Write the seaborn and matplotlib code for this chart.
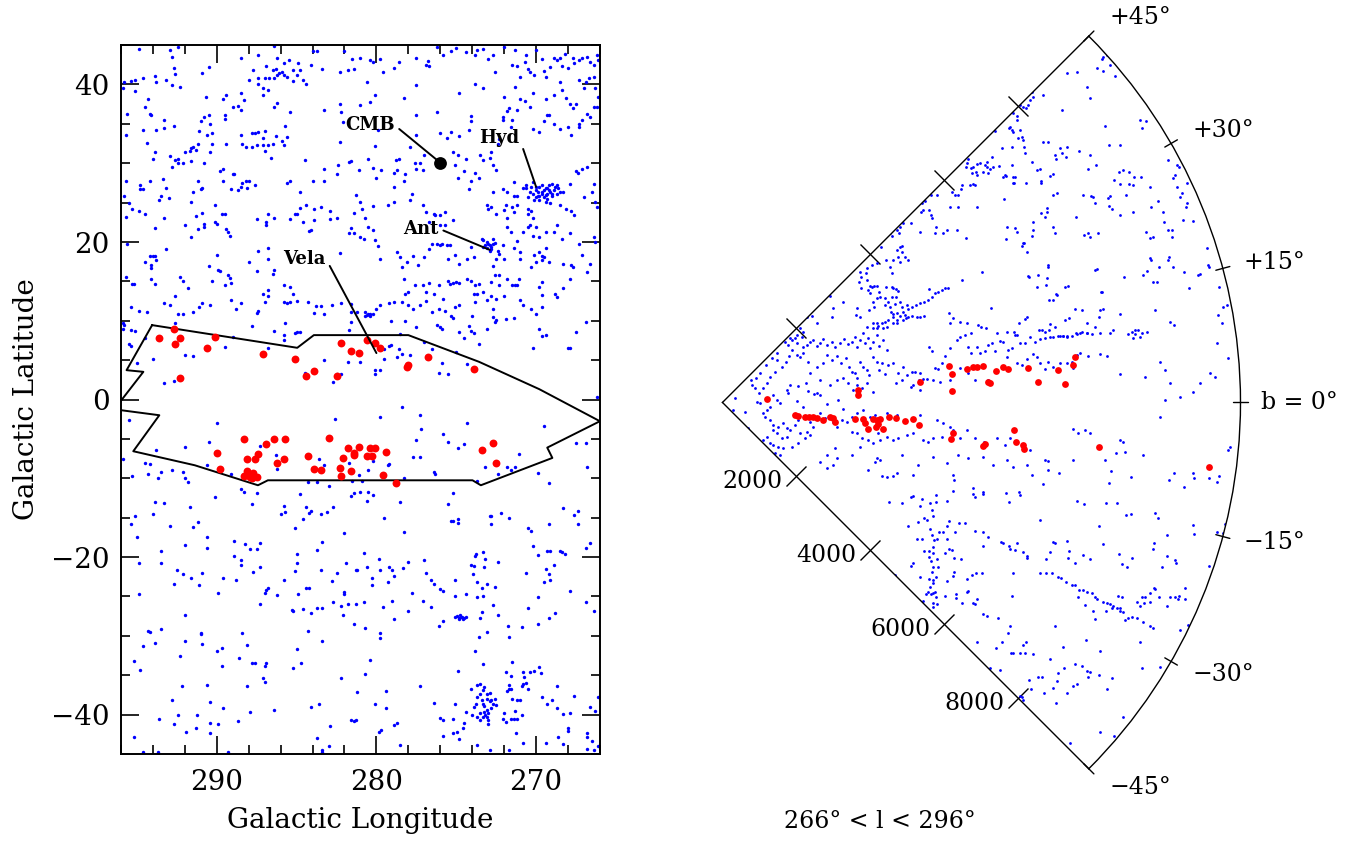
import numpy as np
import matplotlib
matplotlib.use("Agg")
import matplotlib.pyplot as plt
import seaborn as sns
from matplotlib.transforms import offset_copy

sns.set_style("ticks")
plt.rcParams["font.family"] = ["DejaVu Serif"]
plt.rcParams["axes.unicode_minus"] = True
for k in ["text.color", "axes.labelcolor", "xtick.color", "ytick.color", "axes.edgecolor"]:
    plt.rcParams[k] = "black"

# ---------------- LEFT PANEL DATA: galactic (l, b) in degrees ----------------
field_north = [
    (294.9,44.5),(292.9,44.4),(292.8,43.5),(292.4,44.7),(288.5,43.4),(287.4,43.8),(286.4,44.9),(286.2,43.3),(285.8,42.7),(285.5,43.1),(284.9,42.7),(284.1,42.5),(283.7,44.2),(284.0,44.2),(282.0,44.2),(281.5,43.2),(281.0,43.4),
    (287.7,41.8),(286.9,42.4),(286.5,41.8),(286.3,42.0),(286.1,41.5),(285.8,41.2),(285.6,41.0),(285.2,41.8),(284.8,41.8),(285.0,41.2),(284.6,40.6),(284.4,40.0),(285.2,40.4),(288.0,40.6),(287.4,40.8),(287.0,40.8),(286.7,40.8),(286.4,40.8),(287.4,40.0),(287.1,39.5),(286.8,39.3),(287.1,38.7),(286.2,41.2),(285.9,41.6),
    (292.7,42.1),(292.6,41.3),(290.5,42.2),(290.9,41.4),(293.9,41.1),(293.8,40.3),(293.2,40.6),(292.8,39.9),(292.3,39.7),(294.6,40.8),(295.1,40.6),(295.4,40.4),(295.8,40.3),(295.9,39.5),(295.1,39.2),(283.4,42.0),(282.3,41.6),(281.8,41.8),(281.4,42.0),
    (294.3,38.2),(294.5,37.2),(294.2,36.2),(294.1,36.1),(295.6,36.3),(290.7,38.4),(289.6,38.2),(289.4,38.7),(288.5,38.9),(288.3,38.0),(289.0,37.2),(288.7,37.3),(288.5,36.7),(289.5,36.1),(289.5,35.6),(290.8,35.9),(290.5,36.1),(291.0,35.3),(293.3,35.5),(293.3,34.5),(293.8,34.2),(292.7,34.7),(291.1,34.1),(290.6,33.6),(290.3,33.9),(290.4,35.0),(286.4,37.2),(286.2,37.7),(285.4,36.5),(283.3,36.7),(282.3,37.5),(282.2,36.5),(282.1,35.2),(281.0,37.4),(282.3,32.7),(294.6,34.2),(295.7,33.6),
    (294.4,32.6),(293.9,31.4),(294.0,30.6),(292.9,30.9),(292.8,29.5),(292.6,30.4),(292.4,30.6),(292.4,30.0),(292.1,30.0),(292.0,31.4),(291.7,31.5),(291.6,31.9),(291.5,32.1),(291.3,31.7),(291.2,32.4),(291.6,30.3),(290.8,30.0),(290.4,31.4),(290.3,32.5),(289.4,32.5),(288.5,33.6),(288.4,32.4),(288.2,32.1),(287.8,33.9),(287.6,33.8),(287.4,34.0),(287.0,34.1),(287.1,33.2),(287.1,32.3),(286.8,32.3),(287.5,32.3),(287.8,32.1),(286.3,33.5),(285.9,32.8),(285.8,32.3),(285.6,33.3),(285.7,34.7),(286.5,32.5),(287.0,31.5),(286.6,30.7),(284.5,30.4),(283.3,29.3),(283.3,27.8),(284.0,27.7),(284.8,26.4),(285.6,27.5),(285.4,27.8),(282.4,29.8),(282.5,28.6),(281.7,30.1),(281.6,30.3),(281.1,29.1),(281.0,25.1),(281.3,26.0),(281.4,23.7),(281.6,21.8),(281.7,21.1),(281.4,21.1),(281.0,20.6),(282.9,22.9),(282.5,23.1),(282.9,23.9),(283.5,24.4),(283.9,24.2),(284.4,24.7),(284.8,24.3),(285.1,23.5),(285.0,23.5),(284.6,22.5),(285.4,22.9),(284.1,21.5),(284.2,21.4),(283.9,22.8),(286.4,23.1),(286.8,23.6),(286.9,22.1),(286.9,22.5),(287.5,22.9),
    (295.7,27.7),(294.8,27.3),(294.8,26.7),(294.6,26.7),(294.2,27.7),(293.4,28.0),(293.2,26.9),(293.5,25.8),(293.0,25.6),(293.6,25.3),(291.5,26.4),(291.2,27.7),(291.0,26.7),(290.9,26.9),(291.6,25.1),(289.8,29.0),(289.6,29.3),(289.6,27.8),(289.0,28.6),(288.9,28.6),(289.1,26.7),(288.7,26.6),(288.5,27.0),(288.4,27.5),(288.2,27.8),(288.0,27.7),(288.1,26.8),(287.6,27.3),(290.1,24.7),(290.9,23.7),(291.3,23.3),(292.0,22.1),(291.2,21.7),(290.8,22.3),(290.8,21.9),(291.6,20.6),(290.1,22.5),(290.0,22.3),(289.7,23.6),(289.5,23.6),(289.4,21.7),(289.3,21.3),(289.2,20.7),(293.3,23.1),(293.9,21.8),(294.5,23.6),(294.9,24.0),(295.3,24.2),(295.5,25.0),(295.8,25.9),(295.7,23.2),(295.6,19.8),
    (294.2,18.2),(294.0,18.2),(294.5,17.5),(293.9,18.2),(293.8,17.7),(294.1,17.1),(294.1,16.7),(293.2,19.1),(292.3,15.6),(292.1,15.1),(291.8,14.1),(292.6,13.1),(294.1,15.3),(293.9,14.7),(295.7,15.6),(295.3,14.7),(295.2,14.7),(290.5,17.0),(290.0,18.3),(289.9,16.5),(289.8,16.3),(289.3,15.8),(289.2,15.4),(289.1,14.8),(289.5,14.5),(290.3,15.1),(288.0,17.4),(287.5,16.3),(287.4,18.9),(286.8,19.2),(286.8,17.9),(286.4,16.5),(286.5,16.0),(282.3,18.6),(285.8,14.6),(285.4,14.3),(285.2,13.4),(285.0,12.5),(286.8,13.9),(287.1,13.4),(286.8,13.2),(287.0,12.4),(287.4,11.3),(287.5,11.0),(288.5,12.2),(289.1,12.6),(288.8,11.5),(290.4,12.0),(290.9,12.2),(291.1,11.7),(291.5,11.1),(292.1,10.8),(292.4,10.9),(292.9,12.0),(293.3,12.2),(294.4,11.1),(294.9,11.3),(295.4,11.7),(285.8,12.4),(285.6,12.2),(285.4,12.4),(283.8,11.9),(283.5,11.9),(282.8,12.0),(282.2,12.2),(281.6,12.1),(281.6,11.1),(281.2,11.1),(283.3,10.9),(283.9,11.0),(284.3,12.4),
    (280.2,42.9),(280.4,43.1),(279.8,43.2),(279.6,41.6),(278.9,42.1),(278.6,42.9),(277.5,43.3),(276.9,42.5),(276.8,43.0),(276.7,42.4),(276.2,44.8),(275.8,43.8),(275.3,44.2),(275.0,44.6),(274.4,44.1),(273.8,43.8),(273.7,44.4),(273.3,44.5),(273.0,43.2),(272.7,43.8),(272.6,41.6),(272.0,44.8),(271.5,42.5),(271.3,44.4),(271.2,42.4),(271.0,41.0),(270.7,42.9),(270.6,43.8),(270.5,42.0),(270.4,41.6),(270.1,41.2),(270.0,44.4),(269.6,43.2),(269.5,41.7),(269.4,41.0),(269.1,42.2),(268.9,43.3),(268.7,43.1),(268.5,43.4),(268.4,42.4),(268.2,43.9),(268.0,42.1),(267.7,43.3),(267.6,42.7),(267.3,43.1),(267.1,43.3),(266.8,43.5),(266.6,42.9),(266.4,42.5),(266.2,43.8),(266.1,43.1),
    (280.6,40.3),(280.4,37.8),(280.1,38.6),(278.3,38.3),(277.5,39.9),(276.2,36.5),(277.5,36.1),(274.8,38.9),(273.8,40.0),(273.3,39.5),(272.0,38.4),(271.3,39.7),(271.0,38.2),(270.7,37.9),(270.4,37.2),(270.2,38.9),(269.4,38.2),(268.9,38.7),(268.5,40.3),(268.4,39.3),(268.1,38.3),(267.9,37.5),(267.7,37.0),(267.5,37.5),(267.3,40.6),(267.0,39.5),(266.9,40.3),(266.7,40.8),(266.4,41.0),(266.3,39.5),(266.1,38.4),(266.2,37.2),
    (271.7,37.0),(271.8,36.6),(272.1,35.9),(272.1,35.5),(271.6,34.6),(271.5,35.5),(271.2,36.7),(270.2,34.4),(269.8,34.0),(269.5,35.3),(269.3,36.1),(269.2,36.1),(268.9,35.0),(268.5,34.4),(268.0,34.6),(267.8,33.6),(267.3,34.6),(267.3,35.0),(267.1,35.5),(266.8,36.3),(266.6,35.9),(266.4,37.2),
    (274.1,36.0),(274.1,35.3),(274.2,34.2),(276.0,33.9),(275.3,34.0),(274.8,33.5),(275.6,33.2),(277.5,33.6),(277.9,32.1),(278.8,30.4),(278.6,30.5),(278.7,29.1),(278.9,28.7),(278.2,28.6),(278.3,27.7),(278.9,27.0),(277.8,26.1),(277.6,30.0),(277.3,30.0),(277.5,29.3),(277.1,29.2),(277.0,31.1),(279.9,34.2),(280.1,32.2),(280.5,30.6),(280.2,29.4),(280.0,28.1),(279.7,29.1),(275.2,31.4),(274.9,31.0),(275.1,29.8),(274.9,28.1),(274.5,29.0),(274.4,30.5),(274.1,27.8),(274.2,26.7),(273.5,31.0),(273.3,30.4),(272.9,30.7),(272.7,29.8),(272.8,31.4),(273.8,28.7),(273.6,28.1),(272.5,29.1),(272.3,33.1),(272.4,32.5),(272.1,26.7),(271.8,26.4),(271.4,25.9),(271.2,25.9),(270.8,26.8),(270.6,27.3),(270.2,27.6),(270.0,27.0),(271.4,27.6),
    (268.3,26.4),(267.9,27.4),(267.4,28.7),(267.5,29.0),(267.1,29.3),(266.8,29.5),(267.8,23.9),(267.6,23.4),(267.0,25.7),(266.4,27.4),(266.3,25.1),(266.2,24.4),(266.5,26.4),(268.5,24.7),(268.1,24.2),(268.4,20.4),(267.9,21.1),(267.3,19.8),(266.4,20.6),(266.3,20.0),(266.6,17.2),(266.8,16.2),(267.1,18.3),(267.8,17.1),(267.7,16.8),(268.3,17.2),(267.9,15.3),(268.3,14.1),
    (272.7,26.4),(273.1,24.7),(273.0,24.2),(272.8,24.4),(272.5,23.6),(272.0,24.1),(271.8,23.1),(271.9,24.7),(271.5,24.4),(271.4,23.8),(271.2,24.7),(270.5,23.6),(270.5,24.2),(270.3,24.0),(270.2,23.0),(270.4,22.2),(270.0,21.9),(271.8,21.9),(271.6,21.3),(271.2,20.1),(270.8,21.3),(270.5,21.9),(270.2,20.8),(269.8,20.6),(269.4,21.3),(268.9,21.3),(268.7,22.1),(269.4,19.2),(269.8,18.7),(269.6,18.2),(269.5,18.1),(269.6,17.7),(270.0,17.5),(270.3,16.8),(270.1,18.3),(269.2,17.5),(271.0,18.7),(271.0,17.9),(271.4,19.2),(272.1,19.6),(272.0,17.9),(272.3,18.5),(272.5,17.9),(272.7,17.0),(272.6,15.8),(272.3,15.8),(272.8,14.9),(272.3,14.5),(272.0,13.2),(272.5,12.8),(272.8,13.2),(272.7,11.5),(271.8,15.3),(271.5,14.5),(271.3,14.5),(271.2,14.5),(271.1,15.3),(271.0,12.6),(270.8,12.0),(270.3,11.5),(269.6,14.9),(269.8,14.3),(269.6,13.3),(268.8,13.4),(268.7,13.0),(269.6,11.7),(270.0,10.9),
    (274.1,19.4),(273.9,18.1),(274.3,17.9),(274.8,17.2),(275.1,18.3),(275.5,17.9),(275.6,19.6),(275.9,19.8),(276.0,19.6),(276.2,19.7),(275.4,19.6),(276.5,19.8),(276.7,19.1),(277.0,18.1),(277.4,17.1),(277.7,18.2),(278.1,17.5),(278.5,18.1),(278.7,18.7),(279.8,17.9),(279.9,19.5),(280.1,20.2),(280.2,21.5),(280.5,21.9),(280.8,20.4),(280.7,23.0),(280.9,24.2),(280.2,24.6),(279.3,24.7),(278.9,25.1),(276.9,23.8),(276.4,23.6),(276.3,23.4),(276.0,23.4),(275.7,23.8),(276.0,22.1),(275.7,22.1),(275.2,22.8),(276.7,22.5),(277.1,24.7),(277.9,25.3),
    (278.4,16.8),(278.3,15.3),(278.0,13.6),(278.4,12.4),(278.9,12.4),(279.2,12.2),(279.8,12.0),(280.0,11.5),(280.7,11.1),(278.2,13.4),(278.0,12.0),(277.6,14.6),(277.1,14.6),(276.9,13.6),(276.7,14.8),(276.4,13.4),(276.1,14.5),(275.8,12.8),(275.5,15.1),(275.4,14.7),(275.2,14.8),(275.0,14.9),(274.8,14.8),(274.3,15.3),(274.1,15.1),(273.8,14.5),(273.6,14.7),(273.9,13.4),(273.7,13.4),(273.3,13.6),(273.1,12.6),(273.8,12.4),(274.8,12.0),(275.1,11.7),(275.7,11.3),(276.1,11.5),(276.5,11.1),(277.7,11.5),(277.3,12.0),(276.9,12.5),
]

hydra_cluster = [
    (270.6,26.8),(270.4,26.4),(270.2,26.1),(270.0,26.6),(269.9,25.9),(269.8,27.0),(269.6,26.4),(269.5,25.7),(269.4,26.8),(269.3,26.1),(269.2,27.2),(269.1,26.4),(269.0,27.4),(268.9,26.6),(268.8,27.0),(268.7,26.1),(268.6,26.8),(268.5,26.4),(270.1,25.3),(269.8,25.3),(269.4,25.1),(269.1,24.9),(270.5,25.7),(270.3,27.0),(269.6,27.3),(269.3,25.5),(269.0,25.9),(268.7,27.3),(269.6,26.1),(269.9,26.4),(269.4,26.0),(269.2,26.6),(269.5,26.6),(269.3,26.8),(269.8,25.9),(270.0,25.7),(269.0,26.1),
]
antlia_cluster = [
    (273.4,20.4),(273.3,20.2),(273.1,20.0),(273.0,19.8),(272.9,19.6),(272.8,19.4),(273.1,19.2),(272.9,18.9),(272.8,19.1),(272.7,19.7),(272.6,19.9),(273.2,19.6),(272.7,20.4),(273.3,19.4),(272.4,18.9),
]
field_plane = [
    (295.9,9.7),(295.9,9.0),(295.8,9.5),(295.4,8.8),(295.5,7.1),(295.4,6.8),(295.1,8.7),(295.0,4.6),(294.5,7.8),(294.0,5.2),(293.3,2.1),(292.7,2.4),(292.6,9.7),(292.0,5.6),(291.5,5.5),(289.5,6.7),(289.0,8.0),(287.8,9.3),(286.8,6.5),(286.4,8.7),(285.8,8.2),(285.8,7.6),(285.1,8.4),(285.0,8.6),(284.8,8.6),(285.7,9.7),(283.3,5.0),(284.5,3.4),(282.7,2.2),(282.5,3.2),(282.2,3.3),(281.8,4.8),(281.7,8.8),(281.6,9.9),(281.0,4.8),
    (280.6,10.7),(280.4,10.6),(280.2,10.9),(280.7,10.6),(280.4,10.9),(280.5,10.8),
    (280.1,3.7),(280.1,3.2),(279.8,3.7),(279.5,6.4),(279.5,5.2),(279.2,6.8),(279.1,6.9),(279.1,10.0),(278.7,5.4),(278.6,6.4),(278.5,8.3),(278.4,5.8),(277.9,5.6),(278.2,10.0),(277.5,9.2),(277.0,7.3),(276.5,6.4),(276.2,9.5),(276.0,9.2),(275.9,4.6),(275.9,9.0),(276.1,3.4),(275.5,3.2),(275.3,10.6),(275.2,10.3),(275.0,6.1),(274.8,8.6),(274.5,7.8),(274.3,4.5),(274.2,9.3),(274.1,8.7),(274.0,10.6),(273.9,8.5),(273.6,7.1),(273.1,8.9),(272.7,10.5),(272.5,10.1),(271.9,10.2),(271.4,10.3),(272.6,9.9),(270.2,6.6),(269.8,9.0),(269.6,8.1),(269.4,8.2),(268.0,6.6),(267.9,6.5),(267.5,8.6),(266.9,9.9),(266.2,0.3),
    (295.5,-2.6),(295.9,-7.6),(295.3,-9.7),(294.5,-8.1),(294.2,-8.2),(294.3,-9.4),(293.7,-10.0),(293.8,-6.4),(293.5,-9.2),(292.8,-9.0),(292.1,-9.2),(292.0,-10.0),(291.8,-10.5),(292.0,-6.0),(290.5,-5.4),(290.6,-8.3),(290.0,-3.0),(290.1,-12.4),(289.1,-9.4),(288.5,-11.3),(288.3,-11.7),(287.5,-11.9),(287.8,-9.2),(287.3,-5.9),(286.3,-7.1),(286.2,-8.8),(284.3,-10.5),(283.7,-10.5),(284.8,-12.0),(283.6,-7.6),(283.3,-8.3),(283.0,-11.0),(282.6,-2.5),(281.7,-8.1),(281.5,-10.4),(281.4,-11.9),(281.1,-9.6),(280.9,-10.3),(281.6,-12.3),(281.0,-11.7),(280.5,-11.7),(280.2,-12.1),(280.5,-8.9),(280.2,-7.8),(279.8,-2.2),(279.3,-8.3),(279.2,-8.2),(278.4,-0.9),(278.3,-9.9),(277.7,-7.3),(277.3,-7.3),(277.5,-5.1),(277.3,-1.9),(277.2,-3.8),(276.4,-9.2),(276.3,-9.4),(275.8,-4.4),(275.5,-5.4),(275.2,-11.9),(274.9,-6.1),(274.5,-5.6),(274.3,-3.0),(273.7,-10.3),(273.2,-8.6),(272.4,-9.4),(271.8,-8.6),(271.6,-8.9),(271.3,-8.6),(271.1,-6.9),(269.9,-9.3),(269.5,-3.3),(269.2,-10.6),(267.5,-5.5),(266.9,-5.5),(266.8,-8.6),
]
field_south = [
    (293.9,-13.0),(293.3,-13.1),(291.7,-13.6),(287.8,-13.3),(285.8,-13.5),(286.0,-14.5),(285.75,-14.3),(284.4,-13.6),(284.1,-14.1),(284.2,-14.4),(283.5,-14.5),(283.1,-14.3),(282.7,-13.6),(295.1,-14.8),(295.4,-15.8),(294.0,-14.5),(295.0,-17.4),(292.9,-16.1),(291.5,-16.2),(291.2,-15.5),(290.6,-17.5),(290.6,-18.8),(292.0,-18.5),(293.5,-19.2),(293.5,-20.8),(294.9,-20.8),(294.9,-24.7),(292.5,-21.7),(292.1,-22.1),(291.6,-22.6),(292.7,-23.4),(291.1,-23.6),(290.9,-22.0),(289.6,-22.6),(289.9,-24.5),(288.9,-17.9),(288.25,-18.3),(287.9,-19.0),(287.5,-19.0),(287.3,-18.2),(288.9,-19.9),(288.5,-20.4),(288.5,-21.0),(288.8,-22.9),(287.7,-21.9),(287.3,-21.2),(285.8,-22.9),(286.2,-24.8),(287.0,-24.5),(286.9,-24.2),(286.8,-23.9),(287.3,-26.0),(285.1,-16.3),(284.6,-15.2),(285.0,-19.6),(285.0,-20.7),(285.1,-21.8),(284.9,-24.7),(284.4,-23.9),(284.2,-23.9),(285.3,-26.7),(285.2,-26.8),(284.6,-26.6),(283.5,-21.6),(283.75,-19.1),(283.4,-18.1),(282.8,-23.0),(282.5,-22.0),(282.0,-17.0),(281.9,-20.7),(281.3,-21.7),(281.2,-21.7),(282.0,-24.4),(282.0,-24.7),(282.7,-25.7),(282.2,-26.2),(281.8,-25.9),(281.3,-26.0),(282.1,-27.4),(283.7,-26.4),(283.4,-26.5),(284.1,-27.1),(281.4,-28.5),(284.3,-29.4),(283.4,-30.6),(292.0,-27.4),(294.3,-29.4),(294.2,-29.5),(293.5,-29.1),(293.9,-30.9),(294.6,-31.3),(295.2,-33.2),(294.8,-34.3),(292.0,-30.7),(292.3,-32.5),(291.0,-29.6),(291.0,-29.8),(290.9,-31.0),(290.0,-31.9),(289.7,-31.5),(289.7,-33.8),(288.6,-32.8),(288.4,-29.6),(288.1,-31.2),(287.8,-33.4),(287.6,-33.4),(287.0,-33.8),(286.9,-33.4),(287.1,-35.4),(287.0,-35.9),(285.0,-31.7),(285.2,-34.1),(284.75,-33.4),(282.25,-35.3),(281.2,-37.1),(292.2,-36.4),(290.6,-36.2),(288.1,-36.3),(292.8,-38.2),(290.4,-38.4),(289.6,-39.1),(292.4,-40.1),(291.25,-40.0),(293.6,-40.5),(292.7,-41.2),(291.9,-42.2),(291.3,-41.7),(290.4,-41.0),(289.9,-41.2),(290.4,-42.3),(288.7,-40.8),(287.9,-39.6),(286.4,-39.4),(284.1,-38.97),(283.6,-38.6),(282.9,-41.5),(281.6,-40.7),(281.4,-40.8),(281.25,-40.7),(295.2,-42.9),(283.7,-43.0),(283.0,-44.0),(283.4,-44.5),(283.4,-44.8),(294.6,-44.8),(293.7,-44.8),(289.3,-44.8),
    (280.6,-12.9),(278.5,-13.0),(275.5,-13.3),(279.5,-15.0),(278.3,-16.8),(275.3,-15.4),(275.2,-15.4),(274.9,-15.1),(274.9,-15.65),(272.9,-14.8),(272.8,-14.8),(272.2,-14.4),(271.7,-15.0),(272.8,-15.8),(270.5,-16.3),(270.3,-16.7),(268.3,-13.8),(267.4,-14.1),(267.6,-14.7),(267.35,-15.8),(269.2,-15.8),(266.6,-18.2),(266.9,-18.8),(270.2,-18.6),(269.85,-19.7),(269.3,-19.2),(269.1,-19.2),(268.5,-19.2),(268.4,-19.3),(268.2,-19.55),(280.75,-19.5),(279.85,-20.2),(280.6,-21.2),(279.75,-21.6),(279.2,-21.2),(279.0,-21.7),(278.9,-22.4),(280.3,-22.7),(280.3,-23.5),(279.3,-23.2),(278.35,-21.4),(278.0,-20.6),(277.0,-20.4),(276.9,-22.0),(276.6,-22.9),(276.4,-23.4),(276.0,-24.1),(275.8,-24.3),(277.8,-24.6),(277.1,-25.6),(276.6,-26.3),(278.0,-26.9),(278.9,-27.8),(280.75,-25.7),(279.6,-26.3),(279.0,-25.6),(275.1,-22.9),(275.1,-25.0),(274.4,-24.7),(274.1,-21.0),(273.9,-21.1),(273.8,-19.8),(273.75,-19.55),(273.3,-19.4),(273.2,-20.3),(273.25,-21.2),(273.95,-22.1),(273.7,-23.2),(273.4,-23.9),(273.1,-23.45),(273.3,-25.0),(273.7,-25.1),(272.6,-23.8),(272.4,-20.65),(270.6,-22.0),(269.4,-21.5),(268.9,-21.0),(269.2,-22.2),(269.1,-22.9),(269.5,-23.15),(269.9,-25.1),(267.9,-24.3),(266.9,-25.7),(266.35,-26.8),(268.8,-27.05),(269.2,-27.7),(269.85,-28.45),(270.5,-26.5),(270.9,-28.9),(271.75,-28.7),(271.7,-30.2),(272.7,-26.1),(272.4,-27.3),(273.4,-27.0),(273.5,-27.7),(273.1,-29.55),(273.6,-30.1),(275.8,-28.1),(276.1,-28.8),(280.7,-28.95),(279.8,-29.6),(279.8,-30.3),(280.4,-33.0),(280.7,-34.8),(273.8,-31.9),(273.3,-33.6),(274.9,-34.5),(277.25,-36.4),(279.4,-37.05),(280.1,-38.6),(279.4,-39.1),(278.9,-41.3),(278.7,-41.1),(279.7,-42.0),(279.85,-42.2),(278.5,-43.8),(276.4,-38.5),(275.1,-38.6),(276.0,-40.4),(275.8,-40.65),(275.2,-40.6),(275.2,-42.3),(274.95,-42.2),(274.85,-43.1),(275.8,-42.7),(274.4,-39.7),(274.5,-41.1),(274.6,-41.7),(274.0,-40.1),(273.7,-40.3),(273.5,-40.7),(273.0,-41.2),(273.1,-40.3),(273.25,-39.7),(273.7,-43.8),(272.9,-44.55),(271.7,-44.5),(270.8,-43.6),(269.4,-43.6),(268.6,-42.8),(268.3,-43.7),(268.0,-42.1),(266.8,-42.3),(266.8,-42.8),(266.5,-43.4),(266.8,-44.3),(266.4,-44.55),(266.1,-43.95),(267.9,-39.85),(268.3,-39.9),(268.7,-39.2),(269.3,-38.7),(269.0,-38.2),(269.6,-37.7),(269.7,-34.7),(270.4,-34.6),(270.1,-34.5),(269.8,-34.0),(270.85,-34.6),(270.75,-35.2),(270.9,-36.3),(270.5,-36.7),(270.6,-36.0),(270.8,-36.1),(271.5,-33.3),(271.9,-34.6),(271.6,-35.1),(271.7,-36.2),(271.7,-36.8),(271.8,-37.05),(271.6,-36.8),(271.5,-38.0),(271.2,-38.1),(271.0,-38.1),(271.3,-39.5),(270.9,-40.1),(271.2,-40.5),(271.4,-40.5),(272.0,-39.8),(271.9,-40.95),(271.6,-40.5),(271.25,-42.3),(268.7,-36.4),(267.6,-37.6),(266.6,-39.05),(266.3,-39.5),(266.1,-37.8),(268.0,-41.7),(272.1,-40.5),
    (275.1,-27.6),(274.95,-27.5),(274.8,-27.7),(274.65,-27.6),(274.5,-27.7),(274.4,-27.6),(274.75,-27.4),(274.85,-27.9),(274.6,-27.9),(274.7,-27.6),
    (274.1,-36.7),(273.7,-36.2),(273.5,-36.1),(273.25,-36.5),(273.3,-36.9),(273.1,-37.4),(272.9,-37.3),(273.1,-38.0),(272.9,-38.3),(272.8,-38.1),(272.6,-38.0),(272.7,-38.6),(273.25,-38.95),(273.1,-39.4),(273.0,-39.8),(273.3,-40.3),(273.5,-39.8),(273.9,-39.0),(273.75,-38.6),(273.7,-37.8),(273.4,-38.1),(273.3,-38.6),(273.0,-40.7),(273.2,-40.0),(272.8,-39.1),(273.5,-37.4),(272.5,-38.8),
]

# ZOA galaxies with measured redshifts (red)
zoa_lb = [
    (293.6,7.8),(292.7,8.9),(292.3,7.8),(292.6,7.0),(292.3,2.7),(290.1,7.9),(290.6,6.5),(287.1,5.8),(285.1,5.1),(284.4,3.0),(283.9,3.6),(282.5,3.0),(282.2,7.2),(281.6,6.2),(281.1,5.9),(280.6,7.5),(280.1,7.2),(279.8,6.5),(278.1,4.1),(278.0,4.4),(276.8,5.4),(273.9,3.9),
    (288.3,-5.0),(290.0,-6.8),(289.8,-8.8),(288.1,-7.6),(287.6,-7.5),(287.4,-6.9),(286.9,-5.7),(286.4,-5.0),(285.7,-5.0),(285.8,-7.6),(286.2,-8.0),(288.1,-9.1),(288.0,-9.4),(287.9,-9.8),(287.7,-9.3),(287.5,-9.8),(287.8,-10.0),(288.3,-9.7),(284.3,-7.2),(283.9,-8.8),(283.5,-8.9),(283.0,-4.9),(282.3,-8.7),(282.2,-9.7),(282.1,-7.4),(281.8,-6.1),(281.6,-9.1),(281.4,-6.8),(281.4,-7.1),(281.1,-6.0),(280.4,-6.1),(280.1,-6.2),(280.6,-7.2),(280.3,-7.2),(279.6,-9.6),(279.4,-6.6),(278.8,-10.6),(273.4,-6.4),(272.7,-5.5),(272.5,-8.1),
]

# survey boundary (l, b)
boundary_l = [294.05, 295.65, 294.6, 296.3, 296.3, 293.6, 295.23, 291.38, 287.42, 286.8, 273.98, 273.46, 268.98, 269.3, 266.0, 269.8, 273.57, 278.0, 283.92, 284.96, 294.05]
boundary_b = [9.45, 3.73, 3.52, -0.93, -1.27, -1.99, -6.56, -8.34, -10.88, -10.25, -10.25, -10.88, -7.41, -6.1, -2.75, 1.32, 4.79, 8.18, 8.18, 6.57, 9.45]

cmb_l, cmb_b = [276.0], [30.0]
labels = ["CMB", "Hyd", "Ant", "Vela"]
label_text_lb = [(280.4, 34.8), (272.3, 33.2), (277.2, 21.7), (284.5, 17.9)]
label_point_lb = [(276.2, 30.4), (270.0, 27.0), (272.9, 19.0), (280.0, 5.9)]

lon_major = [290, 280, 270]
lat_major = [-40, -20, 0, 20, 40]

# ---------------- RIGHT PANEL DATA: cone plane (cz cos b, cz sin b) in km/s ----------------
cone_north = [
    (7246,6558),(7280,6610),(7340,6640),(7405,6450),(7265,6342),(7163,6386),(7500,6240),(6768,6323),(6577,6291),(6322,6367),(6959,6023),(7023,5813),(6481,5590),(6118,5877),(5908,5941),(5927,5845),(5876,5781),(5844,5686),(5800,5622),(5736,5641),(5685,5686),(5558,5539),(5634,5476),(5621,5399),(5494,5272),(5526,5208),(5481,5240),(5558,5176),(5685,5208),(5717,5081),(5749,5017),(5653,5049),(5207,5195),(5761,4889),(5781,4775),(5526,4877),(5335,4858),(7309,5284),(7978,5399),(8093,5386),(8010,5240),(7392,4921),(7596,4921),(6118,4985),(6226,4985),(6449,4858),(6481,4762),(6354,4730),(6577,4889),(6564,4698),(6373,4647),(6819,4813),(7023,4730),(7137,4539),(6991,4456),(5908,4603),(6004,4444),(6067,4456),(6258,4329),(6322,4367),(6086,4240),(6080,4189),(5800,4202),(5589,4316),(5570,4189),(5526,4539),(5417,4329),(5290,4520),(5144,4698),(5163,4507),(5112,4456),(5048,4603),(5048,4507),(5080,4380),(4984,4412),(5016,4539),(4921,4584),(4857,4558),(4793,4495),(4698,4647),(4679,4584),(4653,4507),(4742,4475),(4761,4393),(4844,4412),(4857,4348),(4780,4176),(4825,4157),(4730,4157),(4570,4157),(4551,4074),(4379,4030),(4443,3966),(4507,3966),(4347,3743),(4494,3743),(4093,3966),(3978,3966),(3870,3858),(3806,3807),(3793,3647),(3838,3679),(3952,3679),(3978,3584),(3997,3520),(4061,3233),(4080,3361),(4207,3233),(4296,3297),(3774,3265),(3596,3424),(3443,3437),(3392,3361),(3328,3297),(3379,3233),(3201,3233),(3233,3182),(3328,2915),(3392,2978),(3424,2991),(3436,2883),(3360,2787),(3392,2692),(3487,2787),(3551,2724),(3264,2724),(3201,2596),(3245,2469),(3124,2724),(3022,2978),(2946,2660),(2850,2628),(2755,2564),(2742,2469),(2627,2501),(2640,2405),(2755,2341),(2819,2227),(2850,2201),(2895,2227),(2946,2227),(2997,2119),(2787,2150),(2640,2182),(2615,2310),(3124,2214),(3233,2214),(3264,2182),(3309,2163),(3360,2138),(3315,2023),(3233,2023),(3105,1991),(3010,2023),(2946,1991),(2882,1927),(2819,2087),(3169,1927),(3201,1832),(3105,1864),(3213,1736),(3264,1692),(3328,1704),(3456,1736),(3551,1781),(3615,1819),(3698,1864),(3774,1896),(3850,1927),(3933,1959),(3997,2023),(4061,2087),(4124,2119),(4188,2150),(4252,2182),(4315,2182),(3952,2163),(3487,1673),(3392,1654),(3328,1577),(3264,1628),(3169,1577),(3105,1545),(3041,1513),(2978,1462),(2946,1526),(3137,1450),(3073,1418),(2959,1418),(2882,1513),(2869,1418),(2755,1450),(3264,1513),(3341,1526),(3443,1577),(3506,1609),(3551,1628),(3615,1654),(3710,1628),(3774,1628),(3850,1654),(3424,1832),(3519,1864),(3296,1883),(3392,1927),(2895,1819),(2806,1768),(2576,1800),(2551,1673),(2627,1628),(2309,1927),(2118,1800),(2054,2036),(2086,1628),(1799,1513),(1608,1628),(1704,1654),(1545,1354),(1417,1290),(1481,1418),(1290,1227),
    (7118,2533),(7150,2545),(7246,2119),(7214,1768),(6959,1526),(6863,1768),(6736,1781),(6628,1609),(6545,1577),(6609,2227),(6545,2201),(6386,2055),(6322,1959),(6246,1959),(6182,2246),(6195,2373),(6035,2437),(6004,2214),(5863,2405),(6226,2596),(5749,3042),(5812,2883),(5921,3189),(5430,3361),(5589,3329),(5634,3265),(5417,3119),(5717,2991),(4653,3138),(4952,2501),(5124,1800),(4570,2341),(4335,1717),(4538,1545),(4666,1513),(4411,1609),(4347,1513),(4889,1482),(4933,1450),(5035,1418),(4742,1322),(5252,1335),(5430,1354),(5570,1354),(5589,1290),(5666,1513),(5781,1590),(5812,1628),(6054,1386),(6099,1386),(6163,1354),(6258,1501),(6246,1386),(6354,1437),(6449,1271),(6513,1271),(6577,1271),(6755,1322),(6832,1322),(6959,1335),(7118,1450),(7201,1628),(7277,1781),(7596,1692),(7456,1386),(7819,1354),(7883,1386),(7946,1386),(8010,1322),(7883,1310),(8265,1768),(8552,1545),(8628,1482),(9475,1673),(9571,1819),(9539,1513),
    (8169,4125),(8329,3858),(8424,3647),(8182,3743),(8093,3265),(8169,3138),(8233,3157),(8596,3297),(8794,3488),(8997,3475),(7851,3647),(7774,4412),(7660,4444),(7583,4412),(7596,4176),(7774,4176),(7838,4157),(7711,3966),(7405,3953),(7392,3756),(7437,3692),(7596,3584),(7991,4316),(7864,4316),(7481,4252),(6883,3966),(7035,3947),(7074,3921),(7118,3819),(6755,3552),(6354,3246),(6908,3201),(7023,3170),(7182,3246),(7373,3902),(8520,4635),(8679,4539),(8730,4507),(8647,4348),(8615,4284),(8679,4125),(8774,3998),(8743,3934),(8883,4202),(8870,3819),(8857,3743),(8520,3297),(8437,3456),(8583,3170),(8539,2787),(8520,2724),(8602,2584),(8169,2756),(8182,2724),(8348,2596),(8118,2520),(8042,2437),(8233,2310),(8309,2310),(8819,2501),(9125,2450),(9093,2437),(9284,2628),(9303,2596),(9265,2947),(8921,2195),(9494,2214),(9634,1864),(7679,2392),(7233,2119),(6322,3361),(6226,2628),(6373,2074),(5844,2418),(5940,3297),(5761,3042),(5386,3883),(4857,3743),(4487,3297),(5354,4316),(5398,4348),(5545,4316),(5558,4202),(6195,3647),(6080,3628),(6163,3552),(5940,3456),(6207,3711),(6309,3966),(6386,4010),(6991,3246),
]
cone_middle = [
    (1194,1162),(1258,1098),(1322,1194),(1385,1226),(1430,1130),(1513,1258),(1545,1067),(1621,1098),(1672,1162),(1736,1194),(1799,1079),(1863,1130),(1927,1207),(1990,1098),(2086,1162),(2150,1067),(2245,1130),(2322,1207),(2404,1117),(2468,1162),(2532,1258),(2564,1067),(2627,1194),(2678,1321),(2723,1130),(2787,1226),(2819,1035),(2882,1162),(2946,1289),(2997,1079),(3073,1194),(3137,1003),(1322,1003),(1417,907),(1481,875),(1277,888),(1213,780),(1130,684),(1035,812),(1003,589),(908,493),(844,366),(780,270),(704,175),(621,270),(557,334),(538,429),(640,461),(716,557),(831,716),(939,844),(1048,939),
    (1545,939),(1640,780),(1799,684),(1927,748),(1990,907),(2086,812),(2182,888),(2258,748),(2360,844),(2424,684),(2468,589),(2532,557),(2576,461),(2627,780),(2691,684),(2755,621),(2806,525),(2882,875),(2946,780),(2997,621),(3041,748),(3105,544),(3169,716),(3264,748),(3360,557),(3443,672),(3519,525),(3615,589),(3678,589),(3774,570),(3838,442),(3901,442),(3952,1067),(3997,990),(4061,652),(4124,633),(4188,748),(4252,888),(4347,1035),(4475,1194),(4538,1258),(4634,1289),(4698,1067),(4742,952),(4857,1054),(4921,952),(5016,990),(5080,1098),(5144,1130),(5207,990),(5303,1181),(5367,1162),(5430,875),(5462,1003),(5526,1035),(5621,1289),(5685,1130),(5781,1130),(5876,1258),(5972,1162),(6067,1207),(6163,1226),(6258,1245),(6322,1245),(6418,1270),(6513,1270),(6577,1245),(6672,1270),(6768,1309),(6863,1353),(6959,1321),(7055,1309),(7214,1321),(7405,1334),(7755,1309),(7851,1226),(7978,1245),(8106,1353),(5621,748),(5717,716),(5812,824),(5940,926),(6004,875),(6067,761),(6163,633),(6226,780),(6322,684),(6449,748),(6577,748),(6672,780),(6704,652),(6768,907),(6832,939),(6991,888),(7214,926),(7341,888),(7596,544),(8074,480),(8360,780),(8456,621),(9411,493),(9443,1130),(9666,844),(5080,429),(4825,429),(4347,429),(4029,429),(3761,429),(4156,398),(4538,652),(4698,557),(4889,652),(4411,525),(3647,334),(3596,302),(3424,429),(3315,366),(3774,238),(2882,207),(2755,366),(2659,270),(2576,334),(2500,238),(2404,366),(2309,461),(2182,429),(2054,334),(1863,429),(1672,570),(1595,366),(1449,315),(1290,334),(1226,238),(1258,187),
    (971,143),(1035,47),(1099,-16),(908,-80),(844,-144),(780,-208),(812,-284),(908,-335),(971,-430),(1067,-462),(1162,-399),(1226,-494),(1290,-526),(1226,-653),(1130,-685),(1035,-590),(971,-526),(844,-653),(780,-717),(908,-781),(971,-813),(1067,-845),(1162,-876),(1003,-972),(1099,-1004),(239,79),(207,-144),(430,-176),(493,-494),(716,-16),(653,15),(1545,-93),(1608,-271),(1672,-367),(1736,-462),(1449,-335),(1385,-430),(1672,-622),(1576,-685),(1481,-590),(1430,35),(1748,162),(1799,187),(1863,143),(1640,226),(1990,-29),(2213,47),(2309,-131),(2468,-558),(2564,-590),(2659,-685),(2787,-717),(2882,-781),(2978,-590),(3010,-717),(3137,-653),(3264,-717),(3360,-685),(3519,-622),(3647,-590),(3838,-717),(3933,-749),(4029,-685),(4188,-653),(4411,-526),(4538,-685),(4666,-526),(4825,-685),(4997,-749),(5239,-685),(5398,-813),(5494,-685),(5876,-908),(6163,-1099),(6226,-1112),(6704,-513),(6800,-590),(6927,-526),(7023,-590),(7596,-717),(7647,-749),(7692,-940),(8042,-1004),(8360,-271),(8456,47),(8552,366),(8743,111),(8997,207),(9125,366),(9316,557),(9666,-908),(9698,-845),(7520,-959),(7309,-1099),(6704,-1099),(5812,-1195),(5558,-1227),(5430,-1099),(5175,-1195),(4984,-1036),(4698,-1067),(4507,-1004),(4284,-1163),(4029,-1036),(3742,-1195),(3424,-1004),(3010,-1099),(2959,-1067),(2914,-1131),(2627,-845),(2468,-1004),(2182,-1067),(1990,-1004),(1863,-1131),(2150,-876),(2118,-1195),(1990,-1259),(1608,-558),(1449,-781),(1322,-845),(1863,-208),(1959,-303),(2105,-367),(2182,-462),(2277,-335),(2373,-367),(2468,-271),(2564,-208),(2691,-144),(2819,-284),(2914,-239),(3137,-208),(3328,-239),(3774,-239),(4093,-335),(4220,-399),(4347,-462),
]
cone_south = [
    (2787,-1290),(3042,-1405),(3137,-1418),(3252,-1405),(3341,-1354),(3647,-1386),(3188,-1895),(3424,-1927),(3596,-1800),(3647,-1787),(3806,-1851),(3774,-1978),(3965,-1915),(4080,-1768),(4080,-1895),(4004,-2055),(4029,-2169),(3902,-2246),(3851,-2214),(3742,-2278),(3551,-2360),(3711,-2615),(3806,-2615),(3851,-2832),(3953,-2832),(4029,-2768),(4105,-2603),(4144,-2469),(3965,-2424),(3997,-2532),(4042,-2628),(4029,-2883),(3953,-2959),(3978,-3023),(4105,-2997),(4125,-3150),(4029,-3150),(4080,-3341),(4029,-3443),(3965,-3520),(3933,-3615),(3889,-3660),(3978,-3660),(4029,-3647),(4080,-3711),(4061,-3615),(4016,-3826),(4029,-3902),(4105,-3851),(3596,-3125),(3647,-3061),(3774,-3329),(3825,-3787),(3296,-3290),(4029,-3392),(3953,-3380),(3997,-3233),
    (4398,-1386),(4424,-1481),(4398,-1685),(4296,-1876),(4793,-1640),(4793,-1749),(4825,-1812),(4971,-1704),(4984,-1749),(5417,-1736),(5481,-1895),(5672,-1704),(5685,-1768),(5908,-1386),(6118,-1558),(6226,-1290),(6436,-1341),(6780,-1876),(6908,-1946),(7328,-1927),(7532,-1927),(7417,-1303),(7392,-1545),(7800,-1418),(7710,-2150),(7800,-2131),(8265,-2105),(8328,-2214),(8539,-1481),(8628,-1354),(8825,-1621),(8984,-1341),(9010,-1449),(9303,-1449),(9443,-1513),(9481,-1405),(8500,-2532),(8997,-2341),(9010,-2513),(9443,-2469),(9600,-2330),(9560,-2490),(9303,-3125),(8838,-3551),(8730,-3698),(8711,-3762),(8647,-3723),(8551,-3711),(8500,-3889),(8347,-3723),(8265,-3571),(8169,-3647),(8074,-3723),(8054,-3838),(7978,-3889),(8246,-3551),(8838,-3762),(8640,-3010),(8666,-3061),(8488,-2934),(8392,-3150),(8246,-2692),(8233,-2806),(7819,-2978),(7723,-3150),(7628,-3086),(7583,-2902),(7277,-2704),(7188,-2360),(7023,-2985),(6882,-2914),(6736,-3061),(6628,-2832),(6608,-2978),(6577,-2641),(6354,-2692),(6322,-2660),(6258,-2851),(6182,-2997),(6067,-2246),(5812,-2978),(5825,-2934),(5736,-2851),(5634,-2692),(5589,-2819),(5481,-2742),(5494,-2806),(5366,-2679),(5315,-2660),(5080,-2564),(4984,-2742),(4825,-2449),(4971,-2469),(4634,-2309),(4525,-2309),(4334,-2258),(4283,-2360),(4207,-2469),(4296,-2615),(4443,-2469),(4379,-2819),(4334,-2806),(4252,-2883),(4424,-2978),(4551,-2997),(4666,-3379),(4761,-3297),(4844,-3252),(4952,-3252),(4424,-3233),(4411,-3316),(4283,-3405),(4252,-3698),(4462,-3743),(4462,-3660),(4570,-3825),(4666,-3615),(4697,-3596),(4793,-3838),(4825,-3851),(4869,-3762),(4971,-4042),(5061,-4080),(5271,-4125),(5526,-3698),(5557,-3265),(6067,-3265),(6182,-3265),(6290,-3252),(6417,-3341),(6462,-3360),(6564,-3424),(6672,-3488),(6736,-3488),(6819,-3583),(6895,-3583),(6959,-3615),(7054,-3647),(7118,-3723),(7163,-3762),(7277,-3806),(7341,-3838),(7405,-3851),(7468,-3889),(7532,-3934),(7596,-3978),(7647,-3997),(7691,-4157),(7755,-4125),(7819,-4106),(7914,-4125),(8042,-4188),(8169,-4271),(8233,-4316),(6800,-3723),(6927,-3870),(7073,-3978),(7118,-4144),(7328,-3978),(7437,-3934),(7596,-3934),(7564,-3698),(7628,-3711),(7927,-3806),(8010,-3723),(8169,-3806),(7978,-4571),(8010,-5080),(8360,-5048),(8742,-4348),(8900,-4260),(7214,-4743),(6946,-4539),(6513,-4679),(6354,-4271),(6258,-4908),(6099,-5252),(6035,-5252),(5863,-5303),(5685,-4794),(5780,-4794),(5799,-4571),(5749,-4634),(5940,-4806),(5506,-4794),(5545,-4781),(5494,-4271),(5462,-4411),(5334,-4571),(5226,-4698),(5112,-5080),(5303,-5112),(4857,-4571),(5889,-5482),(6150,-5558),(6322,-5462),(6386,-5316),(6417,-5163),(6526,-5080),(6589,-5545),(6704,-5418),(6780,-5380),(6736,-4997),(6863,-5036),(6959,-5125),(7023,-5144),(6991,-5240),(7201,-5208),(7437,-5271),(7354,-5482),(6373,-5749),(5717,-5634),(5749,-5685),(5685,-5609),(7647,-6017),(7214,-6291),(7481,-6373),(6640,-6514),
]
zoa_cone = [
    (857,60),(1385,-239),(1449,-258),(1576,-271),(1659,-284),(1736,-284),(1812,-303),(1927,-335),(2054,-271),(2118,-303),(2150,-367),(2532,-316),(2691,-322),(2723,-399),(2787,-513),(2882,-322),(2946,-335),(2978,-411),(2933,-462),(3010,-322),(3061,-513),(3188,-284),(3315,-303),(3487,-348),(3647,-322),(3755,-430),(3774,398),(2596,238),(2596,143),(4335,697),(4379,544),(4379,219),(4679,633),(4793,672),(4857,684),(4972,703),(5080,398),(5112,366),(5226,608),(5354,684),(5462,633),(5844,652),(6035,385),(6418,621),(6545,353),(6691,716),(6736,875),(4398,-590),(4366,-704),(4984,-832),(5016,-794),(5570,-526),(5602,-749),(5749,-813),(5761,-895),(7201,-845),(9303,-1227),
]

b_ticks = [-45, -30, -15, 0, 15, 30, 45]
b_tick_labels = ["\u221245\u00b0", "\u221230\u00b0", "\u221215\u00b0", "b = 0\u00b0", "+15\u00b0", "+30\u00b0", "+45\u00b0"]
cz_ticks = [2000, 4000, 6000, 8000]
cz_max = 9900

# ---------------- FIGURE ----------------
BLUE = "#0000ff"
RED = "#ff0000"
fig = plt.figure(figsize=(13.61, 8.41), dpi=100)
fig.patch.set_facecolor("white")

# ---- left panel ----
ax = fig.add_axes([0.0889, 0.1034, 0.3519, 0.8430])
blue_all = np.array(field_north + hydra_cluster + antlia_cluster + field_plane + field_south)
sns.scatterplot(x=blue_all[:, 0], y=blue_all[:, 1], ax=ax, color=BLUE, s=6,
                linewidth=0, legend=False, zorder=2)
ax.plot(boundary_l, boundary_b, color="black", lw=1.4, zorder=3)
zoa = np.array(zoa_lb)
sns.scatterplot(x=zoa[:, 0], y=zoa[:, 1], ax=ax, color=RED, s=32,
                linewidth=0, legend=False, zorder=4)
sns.scatterplot(x=cmb_l, y=cmb_b, ax=ax, color="black", s=85, linewidth=0,
                legend=False, zorder=5)
for txt, (tl, tb), (pl, pb) in zip(labels, label_text_lb, label_point_lb):
    ax.annotate(txt, xy=(pl, pb), xytext=(tl, tb), ha="center", va="center",
                fontsize=13, fontweight="bold", color="black", zorder=6,
                arrowprops=dict(arrowstyle="-", color="black", lw=1.4,
                                relpos=(1.0, 0.5), shrinkA=1, shrinkB=0))

ax.set_xlim(296, 266)
ax.set_ylim(-45, 45)
ax.set_xticks(lon_major)
ax.set_xticks(np.arange(266, 297, 2), minor=True)
ax.set_yticks(lat_major)
ax.set_yticks(np.arange(-45, 46, 5), minor=True)
ax.tick_params(which="both", direction="in", top=True, right=True, width=1.2,
               labelsize=20, colors="black")
ax.tick_params(which="major", length=13)
ax.tick_params(which="minor", length=6.5)
ax.tick_params(axis="x", pad=11)
ax.tick_params(axis="y", pad=8)
for sp in ax.spines.values():
    sp.set_linewidth(1.4)
    sp.set_color("black")
ax.set_xlabel("Galactic Longitude", fontsize=20, labelpad=8, color="black")
ax.set_ylabel("Galactic Latitude", fontsize=20, labelpad=8, color="black")

# ---- right panel (cone diagram) ----
axp = fig.add_axes([0.4520, 0.0859, 0.5383, 0.8711], projection="polar")
axp.set_thetamin(-45)
axp.set_thetamax(45)

def to_polar(pairs):
    a = np.array(pairs, dtype=float)
    return np.arctan2(a[:, 1], a[:, 0]), np.hypot(a[:, 0], a[:, 1])

th_b, r_b = to_polar(cone_north + cone_middle + cone_south)
sns.scatterplot(x=th_b, y=r_b, ax=axp, color=BLUE, s=4, linewidth=0,
                legend=False, zorder=2)
th_r, r_r = to_polar(zoa_cone)
sns.scatterplot(x=th_r, y=r_r, ax=axp, color=RED, s=24, linewidth=0,
                legend=False, zorder=3)

axp.set_thetamin(-45)
axp.set_thetamax(45)
axp.set_rlim(0, cz_max)
axp.grid(False)
axp.set_xlabel("")
axp.set_ylabel("")
axp.set_xticks(np.deg2rad(b_ticks))
axp.set_yticks(cz_ticks)
axp.tick_params(axis="x", length=0, labelbottom=False, labeltop=False)
axp.tick_params(axis="y", direction="inout", length=10, width=1.0, colors="black",
                left=True, right=True, labelleft=False, labelright=False)
for sp in axp.spines.values():
    sp.set_linewidth(1.0)
    sp.set_color("black")

# tick marks across the outer arc at each latitude
for b in b_ticks:
    th = np.deg2rad(b)
    axp.plot([th, th], [cz_max * 0.986, cz_max * 1.014], color="black", lw=1.0,
             clip_on=False, zorder=5)

for b, lab in zip(b_ticks, b_tick_labels):
    tr = offset_copy(axp.transData, fig=fig, x=21, y=0.42 * b, units="dots")
    axp.text(np.deg2rad(b), cz_max, lab, transform=tr, ha="left", va="center",
             fontsize=17, color="black", clip_on=False)
for cz in cz_ticks:
    tr = offset_copy(axp.transData, fig=fig, x=-14, y=-5, units="dots")
    axp.text(np.deg2rad(-45), cz, f"{cz}", transform=tr, ha="right",
             va="center", fontsize=17, color="black", clip_on=False)

fig.text(880 / 1361, 1 - 822 / 841, "266\u00b0 < l < 296\u00b0", ha="center",
         va="center", fontsize=17, color="black")

fig.savefig("out.png", dpi=100, facecolor="white")
